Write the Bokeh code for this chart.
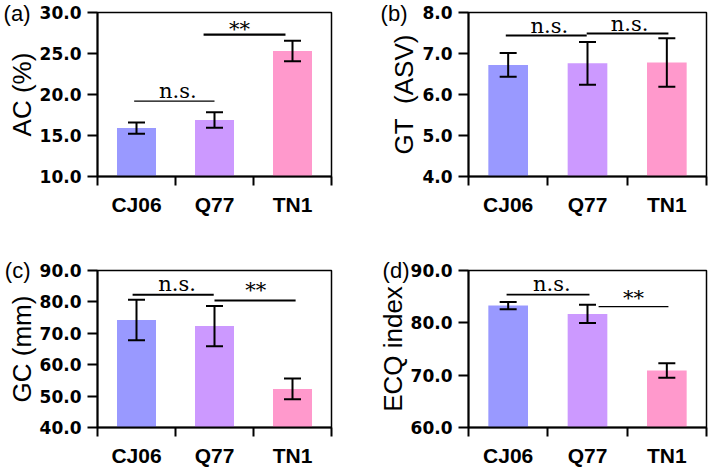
from bokeh.plotting import figure
from bokeh.layouts import gridplot
from bokeh.models import (Range1d, FixedTicker, NumeralTickFormatter, ColumnDataSource,
                          Whisker, TeeHead, LinearAxis)
from bokeh.core.properties import value
from bokeh.embed import file_html
from bokeh.resources import INLINE

# ---------------- data ----------------
categories = ["CJ06", "Q77", "TN1"]
bar_colors = ["#9999ff", "#cc99ff", "#ff99cc"]

ac_mean = [15.9, 16.9, 25.3]
ac_err = [0.7, 0.95, 1.25]

gt_mean = [6.72, 6.76, 6.78]
gt_err = [0.29, 0.52, 0.59]

gc_mean = [74.2, 72.3, 52.3]
gc_err = [6.45, 6.4, 3.3]

ecq_mean = [83.3, 81.7, 70.9]
ecq_err = [0.7, 1.75, 1.4]

ac_ticks = [10, 15, 20, 25, 30]
gt_ticks = [4, 5, 6, 7, 8]
gc_ticks = [40, 50, 60, 70, 80, 90]
ecq_ticks = [60, 70, 80, 90]

# significance annotations: bracket lines (x0, x1, y, width) and labels (x, y, text)
ac_sig_lines = [(0.47, 1.50, 19.2, 1.3), (1.36, 2.41, 27.3, 2.3)]
ac_sig_text = [(1.03, 20.46, "n.s."), (1.82, 28.0, "**")]
gt_sig_lines = [(0.47, 1.49, 7.44, 2.0), (1.49, 2.52, 7.49, 2.0)]
gt_sig_text = [(1.02, 7.67, "n.s."), (2.03, 7.71, "n.s.")]
gc_sig_lines = [(0.45, 1.49, 82.3, 2.0), (1.50, 2.54, 80.45, 2.0)]
gc_sig_text = [(1.02, 85.7, "n.s."), (2.03, 83.9, "**")]
ecq_sig_lines = [(0.48, 1.525, 85.4, 1.7), (1.64, 2.52, 83.1, 1.3)]
ecq_sig_text = [(1.05, 87.4, "n.s."), (2.08, 84.7, "**")]


def make_panel(letter, letter_shift, ylabel, means, errs, yticks, sig_lines, sig_text,
               width, height, mbl, mbr, mbt, mbb):
    ylo, yhi = yticks[0], yticks[-1]
    p = figure(width=width, height=height, x_range=Range1d(0, len(categories)),
               y_range=Range1d(ylo, yhi), output_backend="svg", toolbar_location=None,
               min_border_left=mbl, min_border_right=mbr, min_border_top=mbt,
               min_border_bottom=mbb, background_fill_color="white",
               border_fill_color="white")
    xs = [i + 0.5 for i in range(len(categories))]
    src = ColumnDataSource(dict(
        x=xs, top=means,
        upper=[m + e for m, e in zip(means, errs)],
        lower=[m - e for m, e in zip(means, errs)],
        color=bar_colors))
    p.vbar(x="x", top="top", bottom=ylo, width=0.5, fill_color="color",
           line_color=None, source=src)
    w = Whisker(source=src, base="x", upper="upper", lower="lower", dimension="height",
                line_color="black", line_width=2, level="annotation",
                upper_head=TeeHead(size=17, line_color="black", line_width=2),
                lower_head=TeeHead(size=17, line_color="black", line_width=2))
    p.add_layout(w)

    p.segment(x0=[s[0] for s in sig_lines], x1=[s[1] for s in sig_lines],
              y0=[s[2] for s in sig_lines], y1=[s[2] for s in sig_lines],
              line_width=[s[3] for s in sig_lines], line_color="black")
    p.text(x=[t[0] for t in sig_text], y=[t[1] for t in sig_text],
           text=[t[2] for t in sig_text], text_font=value("DejaVu Serif"),
           text_font_size="21px", text_align="center", text_baseline="alphabetic",
           text_color="black")

    p.grid.visible = False
    p.outline_line_color = "black"
    p.outline_line_width = 1.5

    xa = p.xaxis[0]
    xa.ticker = FixedTicker(ticks=xs, minor_ticks=list(range(len(categories) + 1)))
    xa.major_label_overrides = {x: c for x, c in zip(xs, categories)}
    xa.major_tick_line_color = None
    xa.major_tick_out = 0
    xa.major_tick_in = 0
    xa.minor_tick_in = 0
    xa.minor_tick_out = 9
    xa.minor_tick_line_width = 2
    xa.minor_tick_line_color = "black"
    xa.axis_line_width = 2
    xa.axis_line_color = "black"
    xa.major_label_text_font = "Liberation Sans"
    xa.major_label_text_font_size = "21px"
    xa.major_label_text_font_style = "bold"
    xa.major_label_text_color = "black"
    xa.major_label_standoff = 7

    ya = p.yaxis[0]
    ya.ticker = FixedTicker(ticks=yticks)
    ya.formatter = NumeralTickFormatter(format="0.0")
    ya.major_tick_out = 10
    ya.major_tick_in = 0
    ya.major_tick_line_width = 2
    ya.major_tick_line_color = "black"
    ya.minor_tick_line_color = None
    ya.axis_line_width = 2
    ya.axis_line_color = "black"
    ya.major_label_standoff = 6
    ya.major_label_text_font = "DejaVu Sans"
    ya.major_label_text_font_size = "17px"
    ya.major_label_text_font_style = "bold"
    ya.major_label_text_color = "black"
    ya.axis_label = ylabel
    ya.axis_label_text_font = "Liberation Sans"
    ya.axis_label_text_font_size = "26px"
    ya.axis_label_text_font_style = "normal"
    ya.axis_label_text_color = "black"
    ya.axis_label_standoff = 0

    # panel letter: an outer, line-less axis carrying a single label at the top
    la = LinearAxis(ticker=FixedTicker(ticks=[yhi]),
                    major_label_overrides={yhi: letter},
                    axis_line_color=None, major_tick_line_color=None,
                    minor_tick_line_color=None, major_tick_in=0, major_tick_out=0,
                    minor_tick_in=0, minor_tick_out=0,
                    major_label_standoff=-27 + letter_shift,
                    major_label_text_font="Liberation Sans",
                    major_label_text_font_size="22px",
                    major_label_text_font_style="normal",
                    major_label_text_color="black")
    p.add_layout(la, "left")
    return p


p1 = make_panel("(a)", 0, "AC (%)", ac_mean, ac_err, ac_ticks,
                ac_sig_lines, ac_sig_text, 352, 236, 93, 21, 12, 60)
p2 = make_panel("(b)", 6, "GT\u00a0\u00a0(ASV)", gt_mean, gt_err, gt_ticks,
                gt_sig_lines, gt_sig_text, 356, 236, 116, 2, 12, 60)
p3 = make_panel("(c)", 0, "GC (mm)", gc_mean, gc_err, gc_ticks,
                gc_sig_lines, gc_sig_text, 352, 236, 93, 21, 34, 45)
p4 = make_panel("(d)", -8, "ECQ index", ecq_mean, ecq_err, ecq_ticks,
                ecq_sig_lines, ecq_sig_text, 356, 236, 116, 2, 34, 45)

grid = gridplot([[p1, p2], [p3, p4]], toolbar_location=None)

open("out.html", "w").write(file_html(grid, INLINE))
